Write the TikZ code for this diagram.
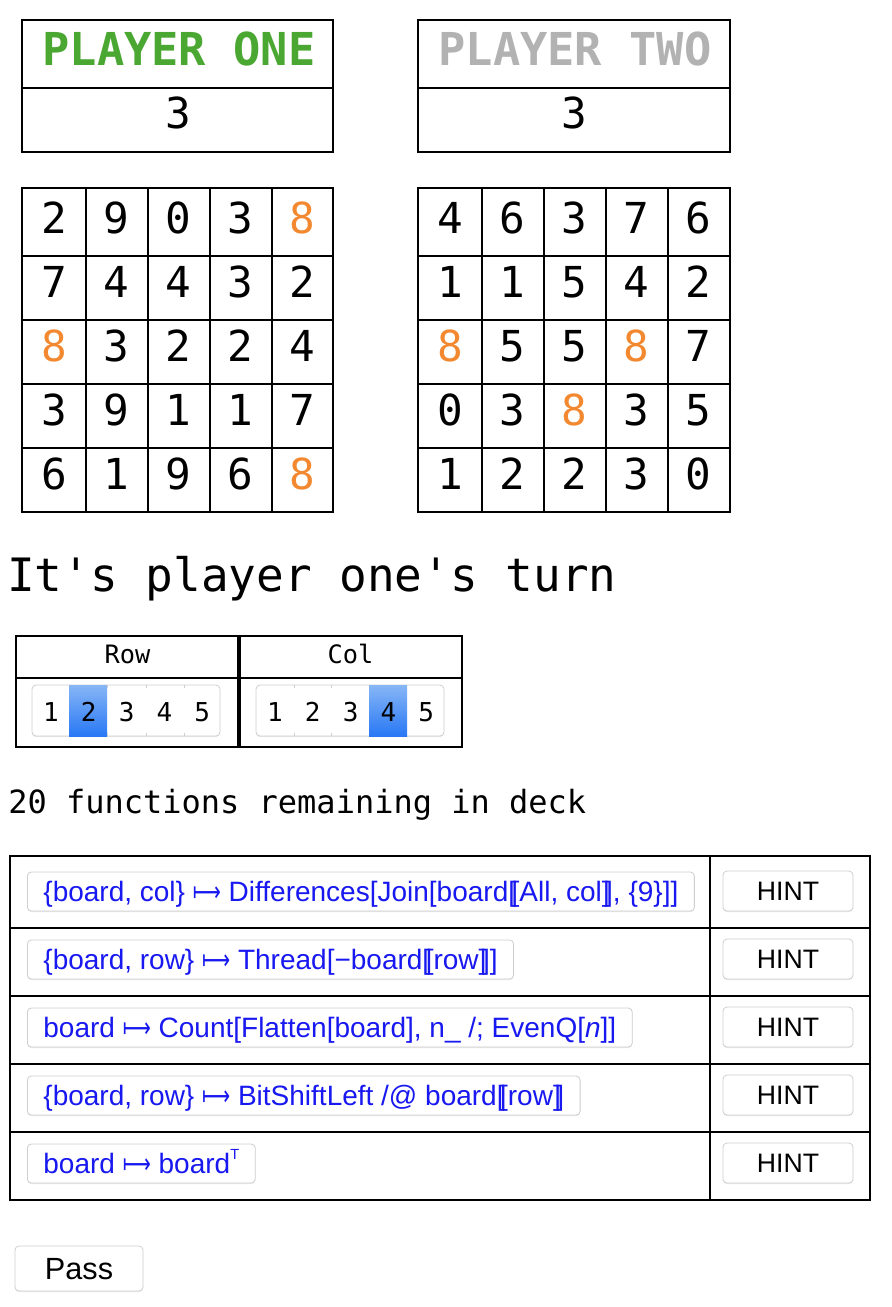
\documentclass[tikz,border=0pt]{standalone}
\usepackage{fontspec}
\setmainfont{Liberation Sans}
\setmonofont{DejaVu Sans Mono}
\newfontfamily\symfont{DejaVu Sans}
\usetikzlibrary{shadows}

\definecolor{pgreen}{RGB}{74,167,50}
\definecolor{pgrey}{RGB}{178,178,178}
\definecolor{eight}{RGB}{242,137,48}
\definecolor{fblue}{RGB}{24,24,240}
\definecolor{btnline}{RGB}{206,206,206}
\definecolor{seltop}{RGB}{135,182,246}
\definecolor{selbot}{RGB}{40,120,245}

\newcommand{\lbrk}{[\kern-0.16em[}
\newcommand{\rbrk}{]\kern-0.16em]}
\newcommand{\mapsarrow}{{\symfont\scalebox{0.7}[1]{⟼}}}

\tikzset{
	tbl/.style={line width=1.5pt},
	cellnum/.style={font=\ttfamily\fontsize{32}{32}\selectfont, anchor=base, inner sep=0pt},
	btn/.style={draw=btnline, fill=white, rounded corners=3pt, line width=0.6pt,
		drop shadow={shadow xshift=0pt, shadow yshift=-0.8pt, opacity=0.18}},
	fbtn/.style={btn, anchor=west, font=\fontsize{21}{21}\selectfont, text=fblue,
		minimum height=29.25pt, inner xsep=12pt, inner ysep=0pt, text height=15pt, text depth=0pt},
	hintbtn/.style={btn, font=\fontsize{20}{20}\selectfont, minimum width=97.5pt,
		minimum height=30pt, inner sep=0pt, text height=14.4pt, text depth=0pt},
	selbox/.style={btn, minimum width=141pt, minimum height=38.25pt, inner sep=0pt},
	selnum/.style={font=\ttfamily\fontsize{19.5}{19.5}\selectfont, anchor=base, inner sep=0pt},
}

\begin{document}
\begin{tikzpicture}[x=0.75pt, y=-0.75pt]
	\useasboundingbox (0,0) rectangle (892,1307);

	% Spillerfelt
	\draw[tbl] (22,20) rectangle (333,152);
	\draw[tbl] (22,88) -- (333,88);
	\node[font=\ttfamily\bfseries\fontsize{34}{34}\selectfont, text=pgreen, anchor=base, inner sep=0pt] (p1name) at (179,65) {PLAYER ONE};
	\node[cellnum] (p1score) at (178,128) {3};

	\draw[tbl] (418,20) rectangle (730,152);
	\draw[tbl] (418,88) -- (730,88);
	\node[font=\ttfamily\bfseries\fontsize{34}{34}\selectfont, text=pgrey, anchor=base, inner sep=0pt] (p2name) at (575,65) {PLAYER TWO};
	\node[cellnum] (p2score) at (574,128) {3};

	% Brett for spiller en
	\draw[tbl] (22,188) rectangle (333,512);
	\foreach \x in {86,148,210,272} \draw[tbl] (\x,188) -- (\x,512);
	\foreach \y in {256,320,384,448} \draw[tbl] (22,\y) -- (333,\y);
	\foreach \vals [count=\r] in {{2,9,0,3,8},{7,4,4,3,2},{8,3,2,2,4},{3,9,1,1,7},{6,1,9,6,8}}
		\foreach \v [count=\c] in \vals {
			\ifnum\v=8 \def\numcol{eight}\else\def\numcol{black}\fi
			\node[cellnum, text=\numcol] (a-\r-\c) at ({54+62*(\c-1)},{233+64*(\r-1)}) {\v};
		}

	% Brett for spiller to
	\draw[tbl] (418,188) rectangle (730,512);
	\foreach \x in {482,544,606,668} \draw[tbl] (\x,188) -- (\x,512);
	\foreach \y in {256,320,384,448} \draw[tbl] (418,\y) -- (730,\y);
	\foreach \vals [count=\r] in {{4,6,3,7,6},{1,1,5,4,2},{8,5,5,8,7},{0,3,8,3,5},{1,2,2,3,0}}
		\foreach \v [count=\c] in \vals {
			\ifnum\v=8 \def\numcol{eight}\else\def\numcol{black}\fi
			\node[cellnum, text=\numcol] (b-\r-\c) at ({450+62*(\c-1)},{233+64*(\r-1)}) {\v};
		}

	% Tur
	\node[font=\ttfamily\fontsize{34.5}{34.5}\selectfont, anchor=base west, inner sep=0pt] (turn) at (7,591) {It's player one's turn};

	% Rad- og kolonnevalg
	\draw[tbl] (16,636) rectangle (462,747);
	\draw[tbl] (16,678) -- (462,678);
	\draw[line width=2.6pt] (239,636) -- (239,747);
	\node[font=\ttfamily\fontsize{19}{19}\selectfont, anchor=base, inner sep=0pt] (rowlab) at (127.5,663) {Row};
	\node[font=\ttfamily\fontsize{19}{19}\selectfont, anchor=base, inner sep=0pt] (collab) at (350.5,663) {Col};

	\node[selbox] (rowsel) at (126,710.5) {};
	\shade[top color=seltop, bottom color=selbot] (69,685) rectangle (107,736);
	\foreach \x in {107,146,184} {
		\draw[btnline, line width=0.5pt] (\x,685) -- (\x,688);
		\draw[btnline, line width=0.5pt] (\x,733) -- (\x,736);
	}
	\foreach \d in {1,...,5} \node[selnum] (row\d) at ({51+37.8*(\d-1)},721) {\d};

	\node[selbox] (colsel) at (350,710.5) {};
	\shade[top color=seltop, bottom color=selbot] (369,685) rectangle (407,736);
	\foreach \x in {294,331} {
		\draw[btnline, line width=0.5pt] (\x,685) -- (\x,688);
		\draw[btnline, line width=0.5pt] (\x,733) -- (\x,736);
	}
	\foreach \d in {1,...,5} \node[selnum] (col\d) at ({275+37.8*(\d-1)},721) {\d};

	% Kortstokk
	\node[font=\ttfamily\fontsize{24}{24}\selectfont, anchor=base west, inner sep=0pt] (deck) at (8,813) {20 functions remaining in deck};

	% Funksjonstabell
	\draw[tbl] (10,856) rectangle (870,1200);
	\draw[tbl] (710,856) -- (710,1200);
	\foreach \y in {928,996,1064,1132} \draw[tbl] (10,\y) -- (870,\y);

	\node[fbtn] (f1) at (27,891.5) {\{board, col\} \mapsarrow{} Differences[Join[board\lbrk All, col\rbrk, \{9\}]]};
	\node[fbtn] (f2) at (27,959.5) {\{board, row\} \mapsarrow{} Thread[−board\lbrk row\rbrk]};
	\node[fbtn] (f3) at (27,1027.5) {board \mapsarrow{} Count[Flatten[board], n\_ /; EvenQ[\textit{n}]]};
	\node[fbtn] (f4) at (27,1095.5) {\{board, row\} \mapsarrow{} BitShiftLeft /@ board\lbrk row\rbrk};
	\node[fbtn] (f5) at (27,1163.5) {board \mapsarrow{} board\raisebox{0.5em}{\fontsize{11}{11}\selectfont T}};

	\foreach \k in {1,...,5} \node[hintbtn] (hint\k) at (788,{891+68*(\k-1)}) {HINT};

	% Pass
	\node[hintbtn, font=\fontsize{23}{23}\selectfont, minimum width=96pt, minimum height=33.75pt, text height=16.5pt] (pass) at (79,1268.5) {Pass};
\end{tikzpicture}
\end{document}
